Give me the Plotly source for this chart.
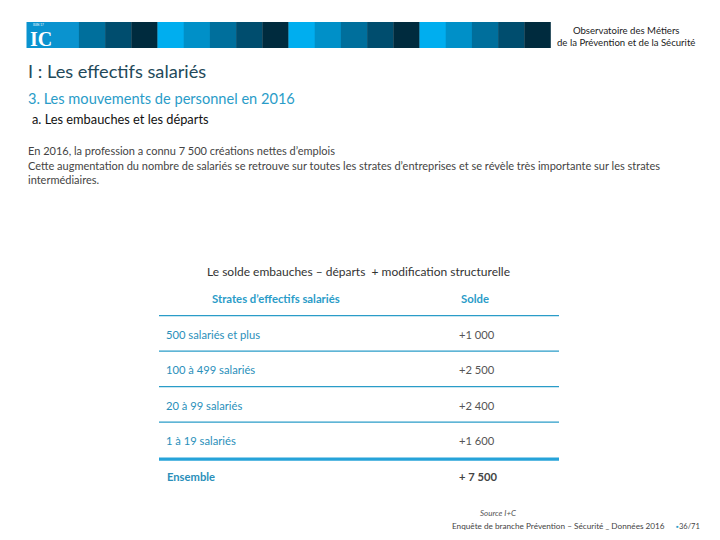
import plotly.graph_objects as go

# ---- data ----
strates = ["500 salariés et plus", "100 à 499 salariés", "20 à 99 salariés", "1 à 19 salariés"]
soldes = [1000, 2500, 2400, 1600]
total_label = "Ensemble"
total_solde = 7500
col_headers = ["Strates d’effectifs salariés", "Solde"]
table_title = "Le solde embauches – départs  + modification structurelle"

FONT = "Lato"
BLUE = "#2a9cc8"
OFF = 8  # page body margin
fig = go.Figure()

def fmt(v, sep=""):
    return "+" + sep + f"{v:,}".replace(",", " ")

# header band
band_colors = ["#00aeef", "#0090c8", "#006f9c", "#004d6e", "#002b3e"]
x0, w = 26.5, 26.2
for i in range(20):
    c = band_colors[i % 5]
    if i < 2:
        c = "#0a93cf"
    fig.add_shape(type="rect", xref="x", yref="y", x0=x0 + i * w, x1=x0 + (i + 1) * w + 0.3,
                  y0=22, y1=48, fillcolor=c, line_width=0, layer="below")
fig.add_annotation(x=41, y=38.5, xref="x", yref="y", text="<b>IC</b>", showarrow=False,
                   font=dict(family="Liberation Serif", size=20, color="white"), xanchor="center", yanchor="middle")
fig.add_annotation(x=31, y=25, xref="x", yref="y", text="ISSN 17", showarrow=False,
                   font=dict(family=FONT, size=3, color="white"), xanchor="left", yanchor="middle")

def T(x, y, text, size, color, xanchor="left", family=FONT, bold=False, italic=False, align="left"):
    if bold:
        text = "<b>" + text + "</b>"
    if italic:
        text = "<i>" + text + "</i>"
    fig.add_annotation(x=x, y=y, xref="x", yref="y", text=text, showarrow=False,
                       xanchor=xanchor, yanchor="middle", align=align,
                       font=dict(family=family, size=size, color=color))

T(697, 36, "Observatoire des Métiers<br>de la Prévention et de la Sécurité", 9.6, "#222222",
  xanchor="right", align="center")

T(26, 71, "I : Les effectifs salariés", 18.2, "#23495a")
T(26, 98, "3. Les mouvements de personnel en 2016", 14.6, "#2a9cc8")
T(30, 119, "a. Les embauches et les départs", 12.8, "#111111")
T(26, 150, "En 2016, la profession a connu 7 500 créations nettes d’emplois", 11, "#444444")
T(26, 165, "Cette augmentation du nombre de salariés se retrouve sur toutes les strates d’entreprises et se révèle très importante sur les strates", 11, "#444444")
T(26, 179, "intermédiaires.", 11, "#444444")

# table
T(358, 271, table_title, 12, "#333333", xanchor="center")
T(276, 298, col_headers[0], 11.3, BLUE, xanchor="center", bold=True)
T(475, 298, col_headers[1], 11.3, BLUE, xanchor="center", bold=True)

top_line = 315.7
row_h = 35.5
fig.add_shape(type="line", xref="x", yref="y", x0=159, x1=559, y0=top_line, y1=top_line,
              line=dict(color=BLUE, width=1.3))
for i, (s, v) in enumerate(zip(strates, soldes)):
    yc = top_line + row_h * i + 18.5
    T(164, yc, s, 11.2, "#2a8fba")
    T(457, yc, fmt(v), 11.2, "#555555")
    last = i == len(strates) - 1
    yl = top_line + row_h * (i + 1) + (1.5 if last else 0)
    fig.add_shape(type="line", xref="x", yref="y", x0=159, x1=559, y0=yl, y1=yl,
                  line=dict(color="#26a3d9" if last else BLUE, width=3.3 if last else 1.3))
yc = top_line + row_h * len(strates) + 19
T(165, yc, total_label, 11.2, "#2a8fba", bold=True)
T(457, yc, fmt(total_solde, " "), 11.2, "#444444", bold=True)

# footer
T(478, 513, "Source I+C", 8, "#555555", italic=True)
T(450, 526, "Enquête de branche Prévention – Sécurité _ Données 2016", 8.2, "#444444")
T(677, 526, "▪", 7, "#2a9cc8", xanchor="center")
T(702, 526, "36/71", 7.5, "#444444", xanchor="right")

fig.update_layout(
    width=720 - OFF, height=540 - OFF, margin=dict(l=0, r=0, t=0, b=0),
    paper_bgcolor="white", plot_bgcolor="white", showlegend=False,
    xaxis=dict(range=[OFF, 720], visible=False, fixedrange=True),
    yaxis=dict(range=[540, OFF], visible=False, fixedrange=True),
)
fig.write_html("out.html")
